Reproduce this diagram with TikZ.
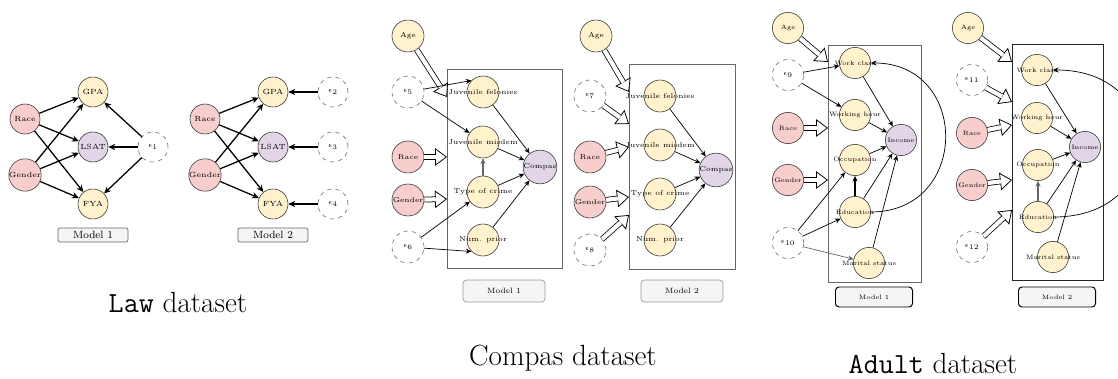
\documentclass[tikz,border=0pt]{standalone}
\usepackage{amsmath}
\usepackage{amssymb}
\usetikzlibrary{arrows.meta}

\definecolor{nodeyellow}{HTML}{FFF2CC}
\definecolor{nodepink}{HTML}{F8CECC}
\definecolor{nodepurple}{HTML}{E1D5E7}
\definecolor{boxgrey}{HTML}{F5F5F5}
\definecolor{linegrey}{HTML}{666666}

\tikzset{
	var/.style={circle, draw=black!80, line width=0.4pt, inner sep=0pt},
	yellownode/.style={var, fill=nodeyellow},
	pinknode/.style={var, fill=nodepink},
	purplenode/.style={var, fill=nodepurple},
	noisenode/.style={var, draw=linegrey, dashed, fill=white},
	lawarrow/.style={line width=0.9pt, -{Stealth[length=5pt, width=4.5pt]}},
	arc/.style={line width=0.5pt, -{Stealth[length=4pt, width=3.6pt]}},
	greyarc/.style={line width=0.9pt, draw=linegrey, -{Stealth[length=4pt, width=3.6pt]}},
	fatarrow/.style={line width=0.55pt, -{Triangle[open, fill=white, length=8.5pt, width=12.5pt]},
		postaction={draw, double, double distance=3pt, -, shorten >=8pt}},
	frame/.style={draw=linegrey, line width=0.5pt},
	modelbox/.style={draw=linegrey, fill=boxgrey, rounded corners=1.5pt, line width=0.5pt}
}

\begin{document}
\begin{tikzpicture}[x=0.025cm, y=-0.025cm]
	\useasboundingbox (0,0) rectangle (1118,379);

	% Law dataset
	\begin{scope}[var/.append style={minimum size=0.75cm, font=\fontsize{5.3}{6}\selectfont}]
		\foreach \m/\dx in {1/0, 2/180}
		{
			\node[pinknode] (race\m) at (25+\dx, 119) {Race};
			\node[pinknode] (gender\m) at (25+\dx, 175) {Gender};
			\node[yellownode] (gpa\m) at (93+\dx, 92) {GPA};
			\node[purplenode] (lsat\m) at (93+\dx, 147) {LSAT};
			\node[yellownode] (fya\m) at (93+\dx, 204) {FYA};
			\foreach \a in {race\m, gender\m}
				\foreach \b in {gpa\m, lsat\m, fya\m}
					\draw[lawarrow] (\a) -- (\b);
			\node[modelbox, minimum width=1.75cm, minimum height=0.35cm, inner sep=0pt,
				font=\fontsize{7.5}{8}\selectfont] (lawmodel\m) at (93+\dx, 235) {Model \m};
		}
		\node[noisenode] (e1) at (153, 147) {$\epsilon_1$};
		\foreach \b in {gpa1, lsat1, fya1}
			\draw[lawarrow] (e1) -- (\b);
		\node[noisenode] (e2) at (333, 92) {$\epsilon_2$};
		\node[noisenode] (e3) at (333, 147) {$\epsilon_3$};
		\node[noisenode] (e4) at (333, 204) {$\epsilon_4$};
		\draw[lawarrow] (e2) -- (gpa2);
		\draw[lawarrow] (e3) -- (lsat2);
		\draw[lawarrow] (e4) -- (fya2);
	\end{scope}
	\node[font=\huge] (lawtitle) at (178, 302) {\texttt{Law} dataset};

	% Compas dataset, model 1
	\begin{scope}[var/.append style={minimum size=0.8cm, font=\fontsize{5}{6}\selectfont}]
		\draw[frame] (447, 69) rectangle (562, 268);
		\node[yellownode] (cage1) at (408, 36) {Age};
		\node[noisenode] (e5) at (408, 92) {$\epsilon_5$};
		\node[pinknode] (crace1) at (408, 157) {Race};
		\node[pinknode] (cgender1) at (408, 200) {Gender};
		\node[noisenode] (e6) at (408, 247) {$\epsilon_6$};
		\node[yellownode] (jf1) at (483, 92) {\makebox[0pt]{Juvenile felonies}};
		\node[yellownode] (jm1) at (483, 142) {\makebox[0pt]{Juvenile misdem}};
		\node[yellownode] (toc1) at (483, 192) {\makebox[0pt]{Type of crime}};
		\node[yellownode] (np1) at (483, 240) {\makebox[0pt]{Num. prior}};
		\node[purplenode] (compas1) at (540, 167) {Compas};
		\coordinate (cin1a) at (447, 97);
		\coordinate (cin1b) at (447, 157);
		\coordinate (cin1c) at (447, 199);
		\draw[fatarrow] (cage1) -- (cin1a);
		\draw[fatarrow] (crace1) -- (cin1b);
		\draw[fatarrow] (cgender1) -- (cin1c);
		\draw[arc] (e5) -- (jf1.135);
		\draw[arc] (e5) -- (jm1);
		\draw[arc] (e6) -- (toc1);
		\draw[arc] (e6) -- (np1.225);
		\draw[greyarc] (toc1) -- (jm1);
		\foreach \a in {jf1, jm1, toc1, np1}
			\draw[arc] (\a) -- (compas1);
		\node[modelbox, minimum width=2.05cm, minimum height=0.55cm, inner sep=0pt,
			rounded corners=2.5pt, draw=black!40, font=\fontsize{5.5}{6}\selectfont] (cmodel1) at (504, 291) {Model 1};

		% Compas dataset, model 2
		\draw[frame] (629, 64) rectangle (735, 269);
		\node[yellownode] (cage2) at (596, 36) {Age};
		\node[noisenode] (e7) at (590, 96) {$\epsilon_7$};
		\node[pinknode] (crace2) at (590, 157) {Race};
		\node[pinknode] (cgender2) at (590, 202) {Gender};
		\node[noisenode] (e8) at (590, 250) {$\epsilon_8$};
		\node[yellownode] (jf2) at (660, 96) {\makebox[0pt]{Juvenile felonies}};
		\node[yellownode] (jm2) at (660, 145) {\makebox[0pt]{Juvenile misdem}};
		\node[yellownode] (toc2) at (660, 194) {\makebox[0pt]{Type of crime}};
		\node[yellownode] (np2) at (660, 240) {\makebox[0pt]{Num. prior}};
		\node[purplenode] (compas2) at (716, 170) {Compas};
		\coordinate (cin2a) at (629, 92);
		\coordinate (cin2b) at (629, 124);
		\coordinate (cin2c) at (629, 147);
		\coordinate (cin2d) at (629, 197);
		\coordinate (cin2e) at (629, 215);
		\draw[fatarrow] (cage2) -- (cin2a);
		\draw[fatarrow] (e7) -- (cin2b);
		\draw[fatarrow] (crace2) -- (cin2c);
		\draw[fatarrow] (cgender2) -- (cin2d);
		\draw[fatarrow] (e8) -- (cin2e);
		\foreach \a in {jf2, jm2, toc2, np2}
			\draw[arc] (\a) -- (compas2);
		\node[modelbox, minimum width=2.05cm, minimum height=0.55cm, inner sep=0pt,
			rounded corners=2.5pt, draw=black!40, font=\fontsize{5.5}{6}\selectfont] (cmodel2) at (682, 291) {Model 2};
	\end{scope}
	\node[font=\huge] (compastitle) at (563, 358) {Compas dataset};

	% Adult dataset, model 1
	\begin{scope}[var/.append style={minimum size=0.78cm, font=\fontsize{4.5}{5}\selectfont}]
		\draw[frame] (828, 45) rectangle (921, 282);
		\node[yellownode] (aage1) at (788, 28) {Age};
		\node[noisenode] (e9) at (788, 75) {$\epsilon_9$};
		\node[pinknode] (arace1) at (788, 128) {Race};
		\node[pinknode] (agender1) at (788, 180) {Gender};
		\node[noisenode] (e10) at (788, 243) {$\epsilon_{10}$};
		\node[yellownode] (wc1) at (855, 63) {\makebox[0pt]{Work class}};
		\node[yellownode] (wh1) at (855, 115) {\makebox[0pt]{Working hour}};
		\node[yellownode] (occ1) at (855, 160) {\makebox[0pt]{Occupation}};
		\node[yellownode] (edu1) at (855, 212) {\makebox[0pt]{Education}};
		\node[yellownode] (ms1) at (869, 263) {\makebox[0pt]{Marital status}};
		\node[purplenode] (inc1) at (901, 140) {Income};
		\coordinate (ain1a) at (828, 62);
		\coordinate (ain1b) at (828, 128);
		\coordinate (ain1c) at (828, 180);
		\draw[fatarrow] (aage1) -- (ain1a);
		\draw[fatarrow] (arace1) -- (ain1b);
		\draw[fatarrow] (agender1) -- (ain1c);
		\draw[arc] (e9) -- (wc1);
		\draw[arc] (e9) -- (wh1);
		\draw[arc] (e10) -- (occ1);
		\draw[arc] (e10) -- (edu1);
		\draw[arc, draw=linegrey] (e10) -- (ms1);
		\draw[arc, line width=0.8pt] (edu1) -- (occ1);
		\foreach \a in {wc1, wh1, occ1, edu1, ms1}
			\draw[arc] (\a) -- (inc1);
		\draw[arc] (edu1.east) .. controls (970, 212) and (970, 63) .. (wc1.east);
		\node[modelbox, minimum width=1.925cm, minimum height=0.5cm, inner sep=0pt,
			rounded corners=2.5pt, draw=black, line width=0.7pt, font=\fontsize{4.5}{5}\selectfont] (amodel1) at (874, 297) {Model 1};

		% Adult dataset, model 2
		\draw[frame, draw=black!85, line width=0.6pt] (1012, 44) rectangle (1103, 280);
		\node[yellownode] (aage2) at (968, 28) {Age};
		\node[noisenode] (e11) at (972, 80) {$\epsilon_{11}$};
		\node[pinknode] (arace2) at (972, 133) {Race};
		\node[pinknode] (agender2) at (972, 185) {Gender};
		\node[noisenode] (e12) at (972, 247) {$\epsilon_{12}$};
		\node[yellownode] (wc2) at (1037, 70) {\makebox[0pt]{Work class}};
		\node[yellownode] (wh2) at (1037, 118) {\makebox[0pt]{Working hour}};
		\node[yellownode] (occ2) at (1038, 165) {\makebox[0pt]{Occupation}};
		\node[yellownode] (edu2) at (1038, 217) {\makebox[0pt]{Education}};
		\node[yellownode] (ms2) at (1053, 257) {\makebox[0pt]{Marital status}};
		\node[purplenode] (inc2) at (1085, 147) {Income};
		\coordinate (ain2a) at (1012, 62);
		\coordinate (ain2b) at (1012, 102);
		\coordinate (ain2c) at (1012, 125);
		\coordinate (ain2d) at (1012, 180);
		\coordinate (ain2e) at (1012, 210);
		\draw[fatarrow] (aage2) -- (ain2a);
		\draw[fatarrow] (e11) -- (ain2b);
		\draw[fatarrow] (arace2) -- (ain2c);
		\draw[fatarrow] (agender2) -- (ain2d);
		\draw[fatarrow] (e12) -- (ain2e);
		\draw[greyarc] (edu2) -- (occ2);
		\foreach \a in {wc2, wh2, occ2, edu2, ms2}
			\draw[arc] (\a) -- (inc2);
		\draw[arc] (edu2.east) .. controls (1170, 217) and (1170, 70) .. (wc2.east);
		\node[modelbox, minimum width=1.925cm, minimum height=0.5cm, inner sep=0pt,
			rounded corners=2.5pt, draw=black, line width=0.7pt, font=\fontsize{4.5}{5}\selectfont] (amodel2) at (1057, 297) {Model 2};
	\end{scope}
	\node[font=\huge] (adulttitle) at (933, 363) {\texttt{Adult} dataset};
\end{tikzpicture}
\end{document}
